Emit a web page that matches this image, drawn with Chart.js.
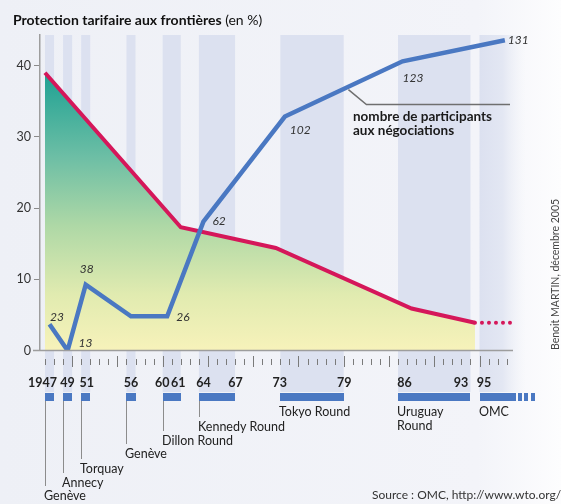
<!DOCTYPE html>
<html lang="fr">
<head>
<meta charset="utf-8">
<title>Protection tarifaire aux frontières</title>
<script src="https://cdn.jsdelivr.net/npm/chart.js@4.4.1/dist/chart.umd.min.js"></script>
<style>
  html, body { margin: 0; padding: 0; background: #fff; }
  #wrap { width: 561px; height: 504px; }
</style>
</head>
<body>
<div id="wrap"><canvas id="tariffChart" width="561" height="504"></canvas></div>
<script>
// tarif douanier moyen (%) - ligne rouge
const tariffYears = [1947, 1962, 1972.5, 1987.5, 1994.5];
const tariffValues = [39, 17.3, 14.4, 5.9, 3.9];
// suite en pointillés
const tariffTailYears = [1994.5, 1998.4];
const tariffTailValues = [3.9, 3.9];

// nombre de participants - ligne bleue
const partYears = [1947.5, 1949.5, 1951.5, 1956.5, 1960.5, 1964.5, 1973.5, 1986.5, 1997.8];
const partValues = [23, 13, 38, 26, 26, 62, 102, 123, 131];

// cycles de négociations
const roundNames = ['Genève', 'Annecy', 'Torquay', 'Genève', 'Dillon Round', 'Kennedy Round', 'Tokyo Round', 'Uruguay\nRound', 'OMC'];
const roundFrom = [1947, 1949, 1951, 1956, 1960, 1964, 1973, 1986, 1995];
const roundTo = [1947, 1949, 1951, 1956, 1961, 1967, 1979, 1993, 1998];

const yearTickLabels = ['1947', '49', '51', '56', '60', '61', '64', '67', '73', '79', '86', '93', '95'];
const yearTickValues = [1947, 1949, 1951, 1956, 1960, 1961, 1964, 1967, 1973, 1979, 1986, 1993, 1995];
const yTickValues = [0, 10, 20, 30, 40];

// placement (pixels) - style only
const yearLabelShift = [-7, 0, 1, 0, -5, 2, 0, 5, -5, 5, 2, -5, 0];
const roundNameBaseline = [500, 487, 473, 458, 445, 431, 416, 416, 416];
const partLabelOffset = [[0.5, -3], [11, -4], [-6, -12], null, [9, 5], [9, 3], [5, 17], [0, 21], [3, 4]];

const FONT = 'Lato, "Open Sans", sans-serif';
const RED = '#d5175a';
const BLUE = '#4a78c2';
const BAND = '#dce1f0';

function fillGradient(context) {
    const chart = context.chart;
    if (!chart.chartArea) return null;
    const ys = chart.scales.y;
    const g = chart.ctx.createLinearGradient(0, ys.getPixelForValue(39), 0, ys.getPixelForValue(0));
    g.addColorStop(0, '#1ea193');
    g.addColorStop(0.3, '#6cbea5');
    g.addColorStop(0.55, '#aed8a6');
    g.addColorStop(0.8, '#e1ebb0');
    g.addColorStop(1, '#f7f2ba');
    return g;
}

const decorPlugin = {
    id: 'decor',
    beforeDraw(chart) {
        const ctx = chart.ctx;
        const xs = chart.scales.x;
        ctx.save();
        const bg = ctx.createLinearGradient(0, 0, chart.width, 0);
        bg.addColorStop(0, '#eef0f6');
        bg.addColorStop(0.85, '#f3f4f9');
        bg.addColorStop(1, '#fdfdfe');
        ctx.fillStyle = bg;
        ctx.fillRect(0, 0, chart.width, chart.height);
        // bandes verticales des cycles
        roundFrom.forEach((from, i) => {
            const x0 = xs.getPixelForValue(from);
            const x1 = xs.getPixelForValue(roundTo[i] + 1);
            if (i === roundFrom.length - 1) {
                const g = ctx.createLinearGradient(x0, 0, x1 + 10, 0);
                g.addColorStop(0, BAND);
                g.addColorStop(0.5, '#e3e7f3');
                g.addColorStop(1, 'rgba(240,242,248,0)');
                ctx.fillStyle = g;
                ctx.fillRect(x0, 35, x1 + 10 - x0, 392 - 35);
            } else {
                ctx.fillStyle = BAND;
                ctx.fillRect(x0, 35, x1 - x0, 392 - 35);
            }
        });
        ctx.restore();
    },
    afterDraw(chart) {
        const ctx = chart.ctx;
        const xs = chart.scales.x;
        const ys = chart.scales.y;
        const y2 = chart.scales.y2;
        const area = chart.chartArea;
        ctx.save();

        // axe horizontal
        ctx.strokeStyle = '#9d9d9d';
        ctx.lineWidth = 1.5;
        ctx.beginPath();
        ctx.moveTo(33, area.bottom);
        ctx.lineTo(area.right, area.bottom);
        ctx.stroke();

        // graduations annuelles
        ctx.strokeStyle = '#7a7a7a';
        ctx.lineWidth = 1;
        for (let yr = 1947; yr <= 1998; yr++) {
            const x = Math.round(xs.getPixelForValue(yr)) + 0.5;
            const long = yr % 5 === 0;
            ctx.beginPath();
            ctx.moveTo(x, long ? 356 : 359);
            ctx.lineTo(x, long ? 367 : 365);
            ctx.stroke();
        }

        // années
        ctx.fillStyle = '#222';
        ctx.font = 'bold 12.5px ' + FONT;
        ctx.textAlign = 'center';
        ctx.textBaseline = 'alphabetic';
        yearTickValues.forEach((yr, i) => {
            ctx.fillText(yearTickLabels[i], xs.getPixelForValue(yr + 0.5) + yearLabelShift[i], 387);
        });

        // barres des cycles, traits de rappel et noms
        ctx.textAlign = 'left';
        roundFrom.forEach((from, i) => {
            const x0 = Math.round(xs.getPixelForValue(from));
            const x1 = Math.round(xs.getPixelForValue(roundTo[i] + 1));
            ctx.fillStyle = BLUE;
            ctx.fillRect(x0, 393, x1 - x0, 8);
            if (i === roundFrom.length - 1) {
                [2, 8, 15].forEach(d => ctx.fillRect(x1 + d, 393, 4, 8));
            }
            const base = roundNameBaseline[i];
            if (i < 6) {
                ctx.strokeStyle = '#8c8c8c';
                ctx.lineWidth = 1;
                ctx.beginPath();
                ctx.moveTo(x0 + 0.5, 401);
                ctx.lineTo(x0 + 0.5, base - 14);
                ctx.stroke();
            }
            ctx.fillStyle = '#222';
            ctx.font = '12.5px ' + FONT;
            roundNames[i].split('\n').forEach((line, k) => {
                ctx.fillText(line, x0 - 1, base + k * 14);
            });
        });

        // valeurs des participants
        ctx.fillStyle = '#333';
        ctx.font = 'italic 12px ' + FONT;
        partYears.forEach((yr, i) => {
            const off = partLabelOffset[i];
            if (!off) return;
            const px = xs.getPixelForValue(yr);
            const py = y2.getPixelForValue(partValues[i]);
            ctx.fillText(String(partValues[i]), px + off[0], py + off[1]);
        });

        // titre
        ctx.fillStyle = '#111';
        ctx.font = 'bold 14px ' + FONT;
        const t1 = 'Protection tarifaire aux frontières';
        ctx.fillText(t1, 13, 25);
        const w1 = ctx.measureText(t1).width;
        ctx.font = '14px ' + FONT;
        ctx.fillText(' (en %)', 13 + w1, 25);

        // légende de la courbe bleue
        const a = 6, b = 7;
        const fx = xs.getPixelForValue(partYears[a]) + (xs.getPixelForValue(partYears[b]) - xs.getPixelForValue(partYears[a])) * 0.54;
        const fy = y2.getPixelForValue(partValues[a]) + (y2.getPixelForValue(partValues[b]) - y2.getPixelForValue(partValues[a])) * 0.54;
        ctx.strokeStyle = '#6f6f6f';
        ctx.lineWidth = 1.5;
        ctx.beginPath();
        ctx.moveTo(fx, fy + 3);
        ctx.lineTo(fx + 18, 104.5);
        ctx.lineTo(510, 104.5);
        ctx.stroke();
        ctx.fillStyle = '#1a1a1a';
        ctx.font = 'bold 13.5px ' + FONT;
        ctx.fillText('nombre de participants', 353, 121);
        ctx.fillText('aux négociations', 353, 135);

        // crédits
        ctx.fillStyle = '#444';
        ctx.font = '10.5px ' + FONT;
        ctx.save();
        ctx.translate(559, 350);
        ctx.rotate(-Math.PI / 2);
        ctx.fillText('Benoit MARTIN, décembre 2005', 0, 0);
        ctx.restore();
        ctx.fillStyle = '#333';
        ctx.font = '12px ' + FONT;
        ctx.fillText('Source : OMC, http://www.wto.org/', 372, 499);

        ctx.restore();
    }
};

const canvas = document.getElementById('tariffChart');
new Chart(canvas, {
    type: 'line',
    data: {
        datasets: [
            {
                label: 'Protection tarifaire',
                data: tariffYears.map((x, i) => ({ x: x, y: tariffValues[i] })),
                yAxisID: 'y',
                borderColor: RED,
                borderWidth: 4,
                pointRadius: 0,
                tension: 0,
                fill: 'origin',
                backgroundColor: fillGradient,
                order: 3
            },
            {
                label: 'Protection tarifaire (suite)',
                data: tariffTailYears.map((x, i) => ({ x: x, y: tariffTailValues[i] })),
                yAxisID: 'y',
                borderColor: RED,
                borderWidth: 4,
                borderDash: [0, 7],
                borderCapStyle: 'round',
                pointRadius: 0,
                fill: false,
                order: 2
            },
            {
                label: 'nombre de participants aux négociations',
                data: partYears.map((x, i) => ({ x: x, y: partValues[i] })),
                yAxisID: 'y2',
                borderColor: BLUE,
                borderWidth: 4.5,
                pointRadius: 0,
                tension: 0,
                fill: false,
                order: 1
            }
        ]
    },
    options: {
        responsive: false,
        animation: false,
        devicePixelRatio: 1,
        layout: { padding: { top: 35, right: 48, bottom: 153.5, left: 0 } },
        plugins: {
            legend: { display: false },
            tooltip: { enabled: false }
        },
        scales: {
            x: { type: 'linear', min: 1946.45, max: 1998.7, display: false },
            y: {
                min: 0,
                max: 44.3,
                afterBuildTicks: scale => { scale.ticks = yTickValues.map(v => ({ value: v })); },
                afterFit: scale => { scale.width = 40; },
                grid: { drawOnChartArea: false, tickLength: 6, color: '#8a8a8a', lineWidth: 1 },
                border: { color: '#9d9d9d', width: 1.5 },
                ticks: { color: '#333', font: { family: FONT, size: 12.5 }, padding: 3 }
            },
            y2: { min: 13, max: 133, display: false }
        }
    },
    plugins: [decorPlugin]
});
</script>
</body>
</html>
